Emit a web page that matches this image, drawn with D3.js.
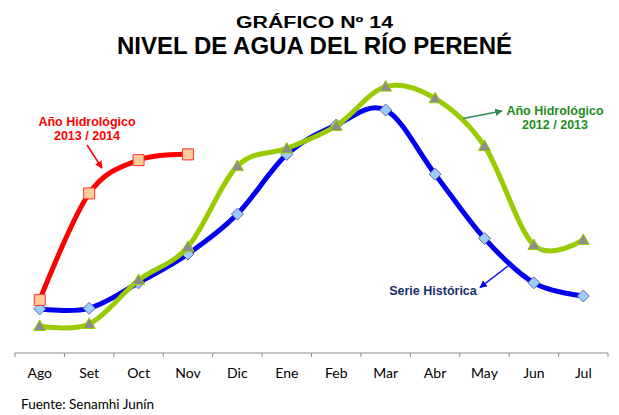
<!DOCTYPE html>
<html>
<head>
<meta charset="utf-8">
<script src="https://cdn.jsdelivr.net/npm/d3@7"></script>
<style>
  body { margin: 0; background: #fff; }
  svg { display: block; }
</style>
</head>
<body>
<svg></svg>
<script>

// months of the hydrological year
let months = ['Ago', 'Set', 'Oct', 'Nov', 'Dic', 'Ene', 'Feb', 'Mar', 'Abr', 'May', 'Jun', 'Jul']

// water level (relative units)
let historica = [1.47, 1.49, 2.34, 3.30, 4.63, 6.62, 7.60, 8.10, 5.96, 3.82, 2.34, 1.90]
let anio2012 = [0.90, 0.97, 2.43, 3.54, 6.23, 6.82, 7.57, 8.88, 8.49, 6.90, 3.60, 3.77]
let anio2013 = [1.77, 5.32, 6.43, 6.62]

let width = 619, height = 415

let svg = d3.select('svg').attr('width', width).attr('height', height)

let x = d3.scaleBand().domain(months).range([15, 608])
let y = d3.scaleLinear().domain([0, 9]).range([353, 83])

let cx = d => x(d) + x.bandwidth() / 2

// title
svg.append('text')
  .attr('x', 314.5).attr('y', 27.5)
  .attr('text-anchor', 'middle')
  .attr('font-family', 'Liberation Sans Narrow, Arial Narrow, Liberation Sans, Arial')
  .attr('font-weight', 'bold').attr('font-size', 16)
  .attr('textLength', 157).attr('lengthAdjust', 'spacingAndGlyphs')
  .text('GRÁFICO Nº 14')

svg.append('text')
  .attr('x', 314.5).attr('y', 54)
  .attr('text-anchor', 'middle')
  .attr('font-family', 'Liberation Sans Narrow, Arial Narrow, Liberation Sans, Arial')
  .attr('font-weight', 'bold').attr('font-size', 23)
  .attr('textLength', 395).attr('lengthAdjust', 'spacingAndGlyphs')
  .text('NIVEL DE AGUA DEL RÍO PERENÉ')

// x axis
let xAxis = d3.axisBottom(x).tickSize(0).tickPadding(0)
let gx = svg.append('g').attr('transform', 'translate(0,353)').call(xAxis)
gx.select('.domain').attr('stroke', '#8c8c8c').attr('d', 'M15,0H608')
gx.selectAll('.tick text')
  .attr('y', 24.5).attr('dy', null)
  .attr('font-family', 'Lato, Open Sans, sans-serif')
  .attr('font-size', 14).attr('fill', '#000')

// boundary ticks
let bounds = months.map(m => x(m)).concat([608])
gx.selectAll('line.bound')
  .data(bounds)
  .enter().append('line')
  .attr('class', 'bound')
  .attr('x1', d => d).attr('x2', d => d)
  .attr('y1', 0).attr('y2', 4)
  .attr('stroke', '#8c8c8c')

let line = d3.line()
  .x((d, i) => cx(months[i]))
  .y(d => y(d))
  .curve(d3.curveCardinal.tension(0))

function drawSeries(data, color, marker) {
  let g = svg.append('g')
  g.append('path')
    .datum(data)
    .attr('d', line)
    .attr('fill', 'none')
    .attr('stroke', color)
    .attr('stroke-width', 5)
    .attr('stroke-linejoin', 'round')
    .attr('stroke-linecap', 'round')

  g.selectAll('path.mk')
    .data(data)
    .enter().append('path')
    .attr('class', 'mk')
    .attr('transform', (d, i) => 'translate(' + cx(months[i]) + ',' + y(d) + ')')
    .attr('d', marker.d)
    .attr('fill', marker.fill)
    .attr('stroke', marker.stroke)
    .attr('stroke-width', 1)
}

drawSeries(historica, '#0000f0', {
  d: 'M0,-6L6,0L0,6L-6,0Z', fill: '#99ccff', stroke: '#6b6b9c'
})
drawSeries(anio2012, '#99cc00', {
  d: 'M0,-6L6,4.5L-6,4.5Z', fill: '#8c8c8c', stroke: '#99cc00'
})
drawSeries(anio2013, '#ff0000', {
  d: 'M-5.5,-5.5H5.5V5.5H-5.5Z', fill: '#ffcc99', stroke: '#ff3333'
})

// arrow heads
let defs = svg.append('defs')
function arrow(id, color) {
  defs.append('marker')
    .attr('id', id)
    .attr('viewBox', '0 0 10 10')
    .attr('refX', 9).attr('refY', 5)
    .attr('markerWidth', 5).attr('markerHeight', 5)
    .attr('orient', 'auto')
    .append('path')
    .attr('d', 'M0,0L10,5L0,10Z')
    .attr('fill', color)
}
arrow('ar-red', '#ff0000')
arrow('ar-green', '#2e8b57')
arrow('ar-blue', '#0000ff')

function note(lines, cxp, y0, color) {
  lines.forEach((t, i) => {
    svg.append('text')
      .attr('x', cxp).attr('y', y0 + i * 14)
      .attr('text-anchor', 'middle')
      .attr('font-family', 'Liberation Sans, Arial, sans-serif')
      .attr('font-weight', 'bold').attr('font-size', 12.5)
      .attr('fill', color)
      .text(t)
  })
}

function pointer(x1, y1, x2, y2, color, id) {
  svg.append('line')
    .attr('x1', x1).attr('y1', y1).attr('x2', x2).attr('y2', y2)
    .attr('stroke', color).attr('stroke-width', 1.5)
    .attr('marker-end', 'url(#' + id + ')')
}

note(['Año Hidrológico', '2013 / 2014'], 87, 125.5, '#ff0000')
pointer(87, 145, 102, 168, '#ff0000', 'ar-red')

note(['Año Hidrológico', '2012 / 2013'], 555, 115, '#1e8c1e')
pointer(463, 118.5, 502, 111, '#2e8b57', 'ar-green')

note(['Serie Histórica'], 433, 295, '#17306b')
pointer(508, 266, 480, 287.5, '#0000ff', 'ar-blue')

// source
svg.append('text')
  .attr('x', 21).attr('y', 409)
  .attr('font-family', 'Lato, Open Sans, sans-serif')
  .attr('font-size', 13)
  .attr('textLength', 133).attr('lengthAdjust', 'spacingAndGlyphs')
  .text('Fuente: Senamhi Junín')

</script>
</body>
</html>
